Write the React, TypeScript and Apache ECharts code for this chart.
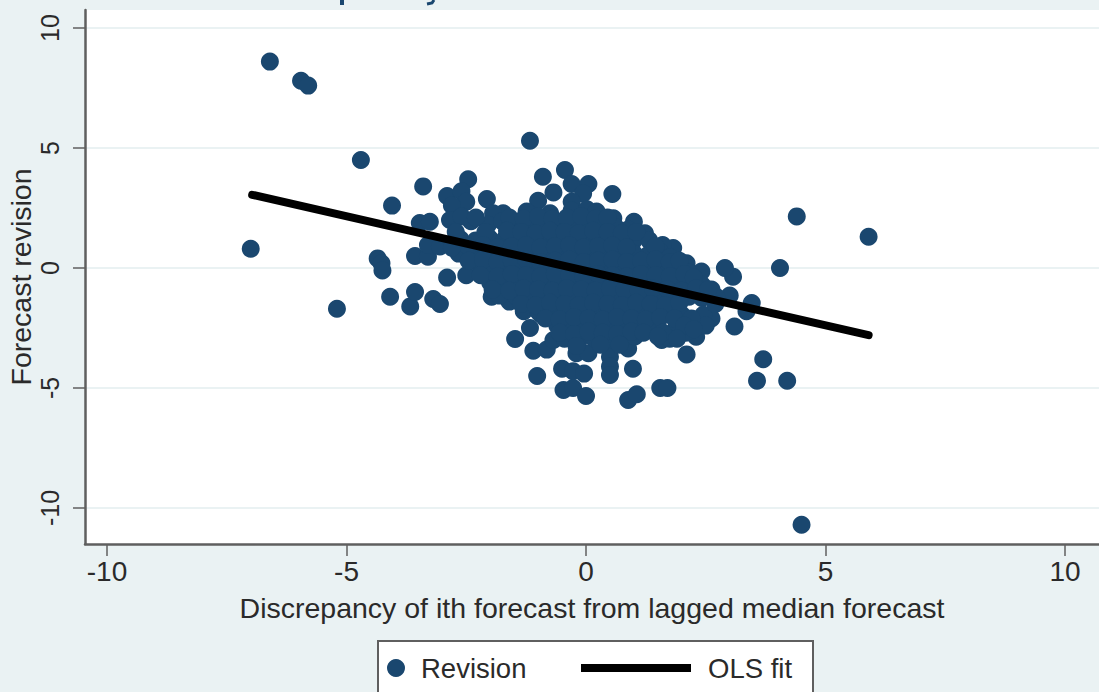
import React, { useEffect, useRef } from "react";
import * as echarts from "echarts";

const revisionPoints: [number, number][] = [
  [-6.6,8.6],[-5.95,7.8],[-5.8,7.6],[-4.7,4.5],[-7.0,0.8],[-5.2,-1.7],[-4.35,0.4],[-4.27,0.2],[-4.25,-0.1],
  [-4.09,-1.2],[-4.05,2.6],[-3.67,-1.6],[-3.57,-1.0],[-3.57,0.5],[-3.4,3.4],[-3.19,-1.29],[-3.05,-1.5],
  [-3.47,1.87],[-3.26,1.93],[-3.3,0.47],[-3.3,0.96],[-2.9,-0.4],[-2.5,-0.3],[-2.9,3.0],[-2.46,3.7],[-2.6,3.2],
  [-2.5,2.76],[-2.8,2.6],[-2.84,2.0],[-2.07,2.87],[-1.17,5.3],[-0.9,3.8],[-0.44,4.08],[-0.68,3.15],[-0.3,3.5],
  [0.05,3.5],[0.55,3.08],[-0.06,3.1],[-1.0,2.8],[-0.3,2.76],[-0.75,2.28],[-1.24,2.35],[-1.73,2.28],[-1.94,2.28],
  [-1.97,-1.2],[-1.6,-1.4],[-1.3,-1.8],[-0.96,-1.9],[-1.17,-2.5],[-1.48,-2.96],[-1.1,-3.45],[-0.82,-3.4],[-0.68,-3.0],
  [-0.2,-3.55],[0.05,-3.55],[0.5,-3.7],[0.5,-4.1],[0.5,-4.46],[0.88,-3.35],[0.98,-4.2],[-1.02,-4.5],[-0.5,-4.2],
  [-0.27,-4.3],[-0.04,-4.4],[-0.47,-5.08],[-0.27,-5.0],[0,-5.33],[0.88,-5.5],[1.06,-5.26],[1.55,-5.0],[1.7,-5.0],
  [2.1,-3.6],[1.58,-3.0],[2.3,-2.86],[2.08,-2.7],[1.85,-2.6],[3.1,-2.44],[2.62,-2.1],[3.35,-1.8],[3.46,-1.46],[3.0,-1.15],
  [3.07,-0.36],[2.9,0.0],[2.62,-0.9],[2.41,-0.15],[2.1,0.2],[1.82,0.83],[1.6,0.96],[1.23,1.45],[1.0,1.93],[0.57,2.07],
  [3.7,-3.8],[3.57,-4.7],[4.2,-4.7],[4.05,0],[4.4,2.15],[5.9,1.3],[4.5,-10.7],
  [-0.3,2.4],[0.02,2.45],[0.22,2.35],
  [-2.4,1.95],[-2.05,1.8],[-1.75,1.95],[-1.5,1.8],[-1.2,1.85],[-0.9,1.75],[-0.6,1.9],[-0.3,1.8],[0.02,1.85],[0.3,1.75],[0.62,1.7],[0.88,1.6],
  [-2.62,1.2],[-2.3,1.15],[-2.02,1.25],[-1.7,1.2],[-1.4,1.1],[-1.1,1.25],[-0.8,1.2],[-0.5,1.15],[-0.2,1.25],[0.1,1.2],[0.4,1.1],[0.7,1.25],[0.98,1.1],[1.32,1.15],
  [-2.66,0.6],[-2.3,0.55],[-2.0,0.7],[-1.72,0.6],[-1.4,0.55],[-1.1,0.65],[-0.8,0.6],[-0.5,0.55],[-0.2,0.65],[0.1,0.6],[0.4,0.55],[0.7,0.65],[1.0,0.6],[1.3,0.55],[1.55,0.65],[1.75,0.45],
  [-2.2,0.05],[-1.9,-0.05],[-1.6,0.1],[-1.3,0],[-1,0.05],[-0.7,-0.05],[-0.4,0.1],[-0.1,0],[0.2,0.05],[0.5,-0.05],[0.8,0.1],[1.1,0],[1.4,0.05],[1.7,-0.05],[1.95,0.02],[2.15,-0.2],
  [-2.0,-0.6],[-1.7,-0.65],[-1.4,-0.55],[-1.1,-0.6],[-0.8,-0.65],[-0.5,-0.55],[-0.2,-0.6],[0.1,-0.65],[0.4,-0.55],[0.7,-0.6],[1,-0.65],[1.3,-0.55],[1.6,-0.6],[1.9,-0.65],[2.2,-0.55],[2.42,-0.7],
  [-1.8,-1.15],[-1.45,-1.2],[-1.15,-1.25],[-0.85,-1.15],[-0.55,-1.2],[-0.25,-1.25],[0.05,-1.15],[0.35,-1.2],[0.65,-1.25],[0.95,-1.15],[1.25,-1.2],[1.55,-1.25],[1.85,-1.15],[2.15,-1.2],[2.42,-1.25],[2.72,-1.2],
  [-1.0,-1.8],[-0.7,-1.85],[-0.4,-1.75],[-0.1,-1.8],[0.2,-1.85],[0.5,-1.75],[0.8,-1.8],[1.1,-1.85],[1.4,-1.75],[1.7,-1.8],[2.0,-1.95],[2.45,-1.95],
  [-0.6,-2.4],[-0.3,-2.45],[0,-2.35],[0.3,-2.4],[0.6,-2.45],[0.9,-2.35],[1.2,-2.4],[1.5,-2.45],[2.3,-2.45],[2.5,-2.4],
  [-0.45,-2.95],[-0.15,-3.0],[0.15,-2.9],[0.45,-3.0],[0.75,-2.95],[1.02,-2.85],[1.75,-2.95],
  [-2.6,2.15],[-2.3,2.1],[-1.6,2.1],[-1.3,2.05],[-1.0,2.15],[-0.7,2.05],[-0.4,2.1],[-0.1,2.15],[0.2,2.05],[0.45,2.1],
  [-2.72,1.5],[-2.1,1.5],[-1.65,1.55],[-1.35,1.5],[-1.05,1.45],[-0.75,1.55],[-0.45,1.5],[-0.15,1.45],[0.15,1.55],[0.45,1.5],[0.75,1.45],[1.05,1.5],
  [-3.05,0.9],[-2.8,0.85],[-2.45,0.9],[-2.15,0.95],[-1.85,0.85],[-1.55,0.9],[-1.25,0.95],[-0.95,0.85],[-0.65,0.9],[-0.35,0.95],[-0.05,0.85],[0.25,0.9],[0.55,0.95],[0.85,0.85],[1.45,0.9],
  [-2.45,0.3],[-2.15,0.35],[-1.85,0.25],[-1.55,0.3],[-1.25,0.35],[-0.95,0.25],[-0.65,0.3],[-0.35,0.35],[-0.05,0.25],[0.25,0.3],[0.55,0.35],[0.85,0.25],[1.15,0.3],[1.45,0.35],[1.75,0.25],[1.95,0.3],
  [-2.2,-0.3],[-1.85,-0.35],[-1.55,-0.25],[-1.25,-0.3],[-0.95,-0.35],[-0.65,-0.25],[-0.35,-0.3],[-0.05,-0.35],[0.25,-0.25],[0.55,-0.3],[0.85,-0.35],[1.15,-0.25],[1.45,-0.3],[1.75,-0.35],[2.05,-0.25],[2.25,-0.4],
  [-1.95,-0.9],[-1.6,-0.95],[-1.3,-0.85],[-1.0,-0.9],[-0.7,-0.95],[-0.4,-0.85],[-0.1,-0.9],[0.2,-0.95],[0.5,-0.85],[0.8,-0.9],[1.1,-0.95],[1.4,-0.85],[1.7,-0.9],[2.0,-0.95],[2.3,-0.85],[2.55,-0.9],
  [-1.35,-1.5],[-1.05,-1.55],[-0.75,-1.45],[-0.45,-1.5],[-0.15,-1.55],[0.15,-1.45],[0.45,-1.5],[0.75,-1.55],[1.05,-1.45],[1.35,-1.5],[1.65,-1.55],[1.95,-1.45],[2.7,-1.5],
  [-0.85,-2.1],[-0.55,-2.15],[-0.25,-2.05],[0.05,-2.1],[0.35,-2.15],[0.65,-2.05],[0.95,-2.1],[1.25,-2.15],[1.55,-2.05],[1.85,-2.1],[2.2,-2.1],
  [-0.55,-2.7],[-0.25,-2.75],[0.05,-2.65],[0.35,-2.7],[0.65,-2.75],[0.95,-2.65],[1.2,-2.7],[1.6,-2.7],[2.05,-2.4],
  [-0.2,-3.25],[0.3,-3.2],[0.7,-3.2],[1.5,-2.85],[1.9,-2.95],[2.25,-2.55],
];
const olsX = [-6.97, 5.9];
const olsY = [3.05, -2.8];
const axisTicks = [-10, -5, 0, 5, 10];
const xAxisTitle = "Discrepancy of ith forecast from lagged median forecast";
const yAxisTitle = "Forecast revision";
const FONT = "'Liberation Sans', Arial, sans-serif";
const BG = "#eaf2f3";
const AXIS = "#5f5f5f";
const INK = "#2a2a2a";

export default function App() {
  const ref = useRef<HTMLDivElement>(null);
  useEffect(() => {
    document.body.style.margin = "0";
    document.body.style.overflow = "hidden";
    const chart = echarts.init(ref.current!, undefined, { renderer: "svg" });
    const axisCommon = {
      type: "value" as const,
      axisLine: { show: true, onZero: false, lineStyle: { color: AXIS, width: 2.5 } },
      axisTick: { show: true, length: 12, customValues: axisTicks, lineStyle: { color: AXIS, width: 1.5 } },
      nameLocation: "middle" as const,
      nameMoveOverlap: false,
      nameTextStyle: { fontFamily: FONT, fontSize: 28.5, color: INK },
    };
    chart.setOption({
      animation: false,
      backgroundColor: BG,
      grid: {
        show: true, backgroundColor: "#ffffff", borderWidth: 0,
        left: 85, right: 0, top: 10, bottom: 148,
        outerBoundsMode: "none", containLabel: false,
      },
      xAxis: {
        ...axisCommon,
        min: -10.46,
        max: 10.71,
        name: xAxisTitle,
        nameGap: 49,
        splitLine: { show: false },
        axisLabel: { customValues: axisTicks, margin: 13, fontFamily: FONT, fontSize: 28, color: INK },
      },
      yAxis: {
        ...axisCommon,
        min: -11.5,
        max: 10.75,
        name: yAxisTitle,
        nameGap: 50,
        splitLine: { show: true, lineStyle: { color: BG, width: 2 } },
        axisLabel: { customValues: axisTicks, rotate: 90, margin: 23, fontFamily: FONT, fontSize: 25, color: INK },
      },
      legend: [
        {
          data: ["Revision"], left: 387, top: 654, itemWidth: 18, itemHeight: 18, itemGap: 0,
          icon: "circle", textStyle: { fontFamily: FONT, fontSize: 27.5, color: INK, padding: [0, 0, 0, 11] },
          padding: 0,
        },
        {
          data: ["OLS fit"], left: 581, top: 654, itemWidth: 110, itemHeight: 8, itemGap: 0,
          icon: "rect", textStyle: { fontFamily: FONT, fontSize: 27.5, color: INK, padding: [0, 0, 0, 12] },
          padding: 0,
        },
      ],
      graphic: [
        {
          type: "rect", z: -1, silent: true,
          shape: { x: 378, y: 641, width: 435, height: 60 },
          style: { fill: "#ffffff", stroke: AXIS, lineWidth: 2 },
        },
        {
          type: "rect", z: 10, silent: true,
          shape: { x: 340, y: 0, width: 4, height: 5 },
          style: { fill: "#1a476f" },
        },
        {
          type: "polyline", z: 10, silent: true,
          shape: { points: [[434, 0], [432, 3], [427, 4]] },
          style: { stroke: "#1a476f", fill: "none", lineWidth: 3 },
        },
      ],
      series: [
        {
          name: "Revision", type: "scatter", symbol: "circle", symbolSize: 18,
          itemStyle: { color: "#1a476f", opacity: 1 }, data: revisionPoints, z: 2,
        },
        {
          name: "OLS fit", type: "line", symbol: "none",
          lineStyle: { color: "#000000", width: 8, cap: "round" },
          itemStyle: { color: "#000000" },
          data: olsX.map((x, i) => [x, olsY[i]]), z: 3,
        },
      ],
    });
    return () => chart.dispose();
  }, []);
  return <div ref={ref} style={{ width: 1099, height: 692 }} />;
}
